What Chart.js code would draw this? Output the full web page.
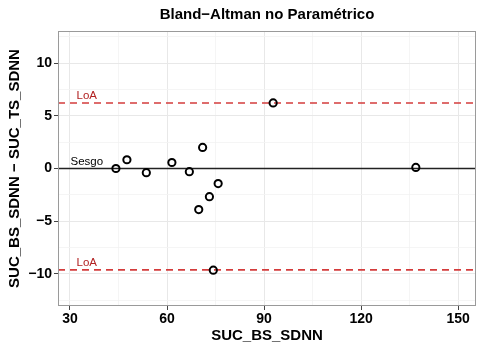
<!DOCTYPE html>
<html>
<head>
<meta charset="utf-8">
<script src="https://cdn.jsdelivr.net/npm/chart.js@4"></script>
<style>
  html, body { margin: 0; padding: 0; background: #fff; }
  #wrap { width: 482px; height: 346px; position: relative; }
</style>
</head>
<body>
<div id="wrap"><canvas id="myChart" width="482" height="346"></canvas></div>
<script>
// Data
const meanValues = [44.2, 47.6, 53.6, 61.5, 66.9, 69.8, 71.0, 73.1, 75.8, 74.3, 92.8, 136.9];
const diffValues = [0.0, 0.83, -0.4, 0.57, -0.3, -3.9, 2.0, -2.67, -1.43, -9.65, 6.22, 0.1];

const upperLoA = 6.22;
const lowerLoA = -9.62;
const bias = 0;

const xRange = [26.3, 155.5];
const yRange = [-13.05, 13.05];
const xTicks = [30, 45, 60, 75, 90, 105, 120, 135, 150];
const yTicks = [-12.5, -10, -7.5, -5, -2.5, 0, 2.5, 5, 7.5, 10, 12.5];

const labelX = 35.2; // where "LoA" / "Sesgo" text sits

const points = meanValues.map((m, i) => ({ x: m, y: diffValues[i] }));
const hline = v => xRange.map(x => ({ x: x, y: v }));

// draws title, panel border and the line annotations
const decorPlugin = {
    id: 'decor',
    afterDraw(chart) {
        const ctx = chart.ctx;
        const a = chart.chartArea;
        const xs = chart.scales.x, ys = chart.scales.y;
        ctx.save();
        ctx.strokeStyle = '#9a9a9a';
        ctx.lineWidth = 1;
        ctx.strokeRect(a.left + 0.5, a.top + 0.5, a.right - a.left - 1, a.bottom - a.top - 1);

        ctx.fillStyle = '#000';
        ctx.font = 'bold 15px "Liberation Sans", Arial, sans-serif';
        ctx.textAlign = 'center';
        ctx.textBaseline = 'middle';
        ctx.fillText('Bland\u2212Altman no Paramétrico', (a.left + a.right) / 2, 15);

        ctx.font = '11.5px "Liberation Sans", Arial, sans-serif';
        ctx.textBaseline = 'bottom';
        ctx.fillStyle = '#b22222';
        ctx.fillText('LoA', xs.getPixelForValue(labelX), ys.getPixelForValue(upperLoA) - 1);
        ctx.fillText('LoA', xs.getPixelForValue(labelX), ys.getPixelForValue(lowerLoA) - 1);
        ctx.fillStyle = '#000';
        ctx.fillText('Sesgo', xs.getPixelForValue(labelX), ys.getPixelForValue(bias) - 1);
        ctx.restore();
    }
};

const isMajor = (v, step) => Math.abs(v / step - Math.round(v / step)) < 1e-6;

const ctx = document.getElementById('myChart').getContext('2d');
const myChart = new Chart(ctx, {
    type: 'scatter',
    data: {
        datasets: [
            {
                label: 'Sesgo',
                type: 'line',
                data: hline(bias),
                borderColor: '#222',
                borderWidth: 1.6,
                pointRadius: 0,
                order: 3
            },
            {
                label: 'LoA sup',
                type: 'line',
                data: hline(upperLoA),
                borderColor: '#d43c3c',
                borderWidth: 1.6,
                borderDash: [7, 5],
                pointRadius: 0,
                order: 2
            },
            {
                label: 'LoA inf',
                type: 'line',
                data: hline(lowerLoA),
                borderColor: '#d43c3c',
                borderWidth: 1.6,
                borderDash: [7, 5],
                pointRadius: 0,
                order: 2
            },
            {
                label: 'Diferencias',
                data: points,
                pointRadius: 3.6,
                pointBorderWidth: 2,
                pointBorderColor: '#000',
                pointBackgroundColor: 'rgba(0,0,0,0)',
                order: 1
            }
        ]
    },
    options: {
        responsive: false,
        animation: false,
        devicePixelRatio: 1,
        layout: { padding: { top: 31, right: 2, left: 0, bottom: 0 } },
        plugins: {
            legend: { display: false },
            tooltip: { enabled: false }
        },
        scales: {
            x: {
                type: 'linear',
                min: xRange[0],
                max: xRange[1],
                afterBuildTicks: s => { s.ticks = xTicks.map(v => ({ value: v })); },
                afterFit: s => { s.height = 40; },
                grid: {
                    color: c => isMajor(c.tick.value, 30) ? '#e8e8e8' : '#f3f3f3',
                    lineWidth: c => isMajor(c.tick.value, 30) ? 1 : 0.8,
                    tickColor: c => isMajor(c.tick.value, 30) ? '#444' : 'rgba(0,0,0,0)',
                    tickLength: 4
                },
                border: { display: false },
                ticks: {
                    autoSkip: false,
                    maxRotation: 0,
                    padding: 1,
                    color: '#000',
                    font: { family: '"Liberation Sans", Arial, sans-serif', size: 14, weight: 'bold' },
                    callback: v => isMajor(v, 30) ? String(v) : ''
                },
                title: {
                    display: true,
                    text: 'SUC_BS_SDNN',
                    color: '#000',
                    padding: { top: 0, bottom: 1 },
                    font: { family: '"Liberation Sans", Arial, sans-serif', size: 15, weight: 'bold' }
                }
            },
            y: {
                type: 'linear',
                min: yRange[0],
                max: yRange[1],
                afterBuildTicks: s => { s.ticks = yTicks.map(v => ({ value: v })); },
                afterFit: s => { s.width = 58; },
                grid: {
                    color: c => isMajor(c.tick.value, 5) ? '#e8e8e8' : '#f3f3f3',
                    lineWidth: c => isMajor(c.tick.value, 5) ? 1 : 0.8,
                    tickColor: c => isMajor(c.tick.value, 5) ? '#444' : 'rgba(0,0,0,0)',
                    tickLength: 4
                },
                border: { display: false },
                ticks: {
                    autoSkip: false,
                    padding: 2,
                    color: '#000',
                    font: { family: '"Liberation Sans", Arial, sans-serif', size: 14, weight: 'bold' },
                    callback: v => isMajor(v, 5) ? (v < 0 ? '\u2212' + Math.abs(v) : String(v)) : ''
                },
                title: {
                    display: true,
                    text: 'SUC_BS_SDNN \u2212 SUC_TS_SDNN',
                    color: '#000',
                    padding: { top: 6, bottom: 0 },
                    font: { family: '"Liberation Sans", Arial, sans-serif', size: 15, weight: 'bold' }
                }
            }
        }
    },
    plugins: [decorPlugin]
});
</script>
</body>
</html>
